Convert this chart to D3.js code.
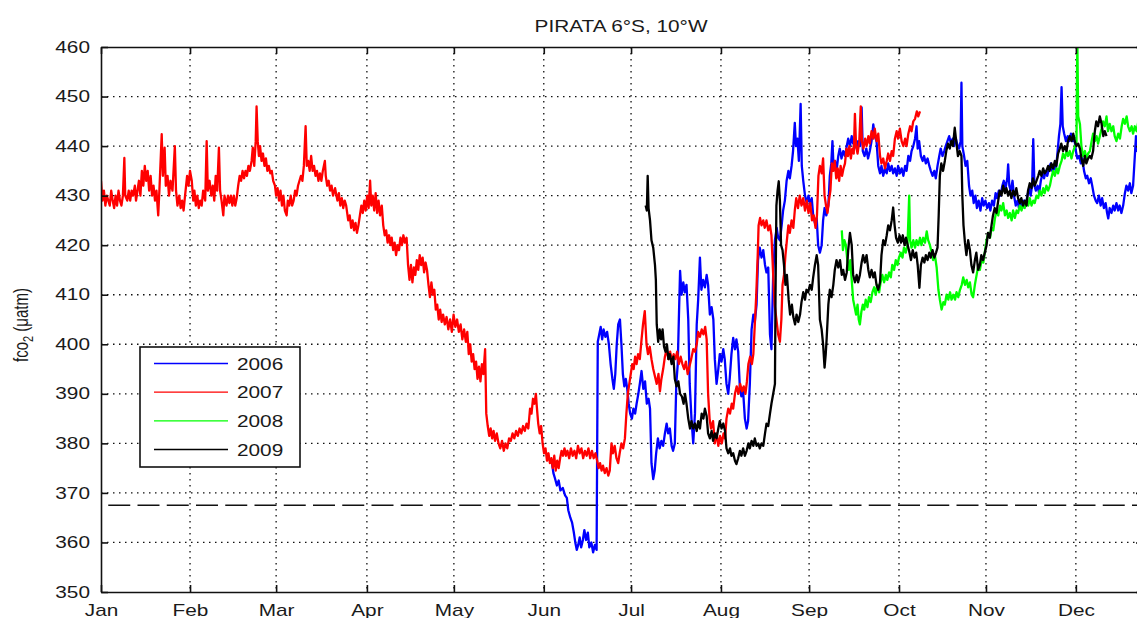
<!DOCTYPE html>
<html><head><meta charset="utf-8">
<script src="https://cdn.jsdelivr.net/npm/d3@7"></script>
<style>
body{margin:0;background:#fff}
svg{display:block}
text{font-family:"Liberation Sans",Arial,Helvetica,sans-serif;fill:#1a1a1a}
</style>
</head><body>
<svg id="c" width="1137" height="618"></svg>
<script>
// ---------- data ----------
const months = ["Jan","Feb","Mar","Apr","May","Jun","Jul","Aug","Sep","Oct","Nov","Dec"];
const monthTickDays = [0,30.5,60.0,91.1,120.9,151.7,181.6,212.4,242.6,273.4,303.2,334.0];
const yTicks = [350,360,370,380,390,400,410,420,430,440,450,460];
const seriesNames = ["2006","2007","2008","2009"];
const referenceLevel = 367.5;
const titleText = "PIRATA 6°S, 10°W";

// [day of year, fCO2]
const s2006 = [[154.5,376],[155,374],[155.5,373],[156.2,371.5],[156.8,372.5],[157.4,370.5],[158.2,371],[159,369.5],[159.6,369],[160.1,366.5],[160.8,365],[161.4,364],[162,362],[162.5,360],[163,358.5],[163.5,359.5],[164,361],[164.5,359],[165.1,360.5],[165.6,362.5],[166.2,360.5],[166.8,362],[167.3,359],[168,360],[168.6,358],[169.2,359.5],[169.8,358.5],[170.2,400.5],[170.7,402],[171.2,403.5],[171.7,401],[172.2,403],[172.8,401.5],[173.4,402.5],[174,400],[174.6,396],[175.2,393],[175.7,391],[176.2,394],[176.7,400],[177.2,404],[177.8,405],[178.3,400],[178.8,394],[179.3,391.5],[179.8,393],[180.3,391],[180.8,388],[181.3,386],[181.9,385],[182.4,387],[183,386],[183.5,388],[184.1,390],[184.6,392],[185.2,394.6],[185.8,391],[186.4,392.5],[187,388],[187.6,389],[188.1,387],[188.6,376],[189.2,372.8],[189.7,374.5],[190.2,378],[190.8,381],[191.4,379],[192,380.5],[192.6,379.5],[193.2,382],[193.8,384],[194.3,382],[194.9,383],[195.5,379.5],[196,378.5],[196.6,380],[197.1,392],[197.6,396],[198.1,408],[198.4,414.8],[198.9,410],[199.5,412.5],[200,410.5],[200.6,412],[201.2,405],[201.7,392],[202.3,385],[202.9,380],[203.5,386],[204.1,404],[204.6,409],[205.2,417.5],[205.7,411],[206.3,413],[206.9,411.5],[207.5,414],[208,412],[208.6,406],[209.2,407.5],[209.8,405],[210.3,397],[210.9,392],[211.5,395],[212,398],[212.6,396.5],[213.2,399],[213.7,397],[214.3,392],[214.9,390],[215.4,393],[216,398],[216.6,401.3],[217.2,399],[217.7,401],[218.3,398.5],[218.9,391],[219.4,389.5],[220,390.5],[220.6,385],[221.2,383],[221.7,384.5],[222.3,392],[222.9,403],[223.5,406],[224,404.5],[224.6,408],[225.1,417],[225.7,419.5],[226.3,417.5],[226.9,419],[227.5,416],[228,414.5],[228.6,415.5],[229.2,402],[229.7,399],[230.3,414],[230.9,421],[231.5,423.5],[232,421.5],[232.6,421],[233.2,424],[233.7,427],[234.3,429],[234.9,433],[235.5,435],[236,433.5],[236.6,436],[237.1,439],[237.7,444.7],[238.1,440],[238.6,441.5],[239.1,437],[239.7,448.5],[240.1,436],[240.6,433],[241.2,430],[241.8,428.5],[242.4,430],[243,428],[243.5,429.5],[244,426],[244.6,424.5],[245.2,425.5],[245.7,420],[246.3,418.5],[246.9,420],[247.4,425],[247.9,427.5],[248.5,426],[249.2,428],[249.7,434],[250.2,436.5],[250.6,441],[251,435.5],[251.5,437],[252,435],[252.6,438],[253.1,439.5],[253.7,437.5],[254.3,439],[254.9,438],[255.5,440],[256,441.5],[256.6,440],[257.2,442],[257.7,440.5],[258.3,441],[258.9,439.5],[259.4,441],[260,440],[260.6,447.8],[261,439],[261.6,438],[262.2,439.5],[262.8,437.5],[263.4,439],[264,441],[264.6,444.4],[265.1,442],[265.7,441],[266.3,436],[266.9,434.5],[267.4,436],[268,434],[268.6,435.5],[269.2,434.5],[269.7,436.5],[270.3,435],[270.9,436],[271.4,434.5],[272,435.5],[272.6,434],[273.1,436],[273.7,434.5],[274.3,435.5],[274.9,434],[275.5,436],[276,435],[276.6,438],[277.2,437],[277.7,439],[278.3,440],[278.9,441.5],[279.4,444],[279.8,439.5],[280.3,441],[280.9,438],[281.5,437],[282,438],[282.6,436.5],[283.2,437.5],[283.8,436],[284.3,435],[284.9,434],[285.5,435],[286,433.5],[286.6,436],[287.2,438],[287.7,439.5],[288.3,438],[288.9,439],[289.4,440],[290,441],[290.6,442],[291.2,440.5],[291.8,441.5],[292.3,440],[292.9,441.5],[293.5,440],[294,439.5],[294.5,441],[294.8,452.8],[295.1,440],[295.7,438],[296.2,436],[296.8,437],[297.4,432],[297.9,430],[298.5,431],[299,428.5],[299.6,430],[300.1,427.5],[300.7,429],[301.3,427],[301.9,429.5],[302.4,428],[303,429],[303.6,427.5],[304.2,428.5],[304.7,427],[305.3,429],[305.9,428],[306.5,430.5],[307,429.5],[307.6,431],[308.2,430],[308.8,432],[309.3,433],[309.9,431.5],[310.5,433.5],[310.8,436.3],[311.2,432],[311.7,431],[312.3,433],[312.8,430],[313.4,428],[314,429],[314.5,427.5],[315.1,428.5],[315.7,427.5],[316.2,429],[316.8,428],[317.4,430],[318,431.5],[318.5,430],[319,432],[319.4,441.4],[319.8,432],[320.3,431],[320.9,432],[321.4,430.5],[322,433],[322.6,434.5],[323.1,433.5],[323.7,435],[324.2,434],[324.8,435.5],[325.4,436.5],[325.9,435],[326.5,436],[327.1,435],[327.6,438],[328.2,442],[328.7,444.5],[329.1,451.9],[329.5,444],[330,442.5],[330.6,441],[331.2,442],[331.7,441],[332.3,442.5],[332.9,441],[333.4,442],[334,439],[334.5,437.5],[335.1,438],[335.7,436.5],[336.2,437.5],[336.8,435],[337.4,433.5],[337.9,434],[338.5,432.5],[339.1,433.5],[339.6,432],[340.2,430],[340.8,429],[341.3,428.5],[341.9,430],[342.5,428],[343,429.5],[343.6,427.5],[344.2,428.5],[344.7,426.5],[345.1,425.4],[345.6,427.5],[346.2,426.5],[346.8,428],[347.3,427],[347.9,428.5],[348.5,427],[349,428],[349.6,426.5],[350.2,428],[350.8,430.5],[351.3,432],[351.9,431],[352.5,432.5],[353,430.5],[353.6,432],[354.2,438],[354.6,442],[355,439],[355.6,441],[356.2,437],[356.8,439],[357.3,436]];

const s2007 = [[0,433],[0.5,429],[1,431],[1.5,428],[2,430],[3,428],[3.5,431],[4,429],[4.5,427.5],[5,430],[5.5,428],[6,431],[6.5,429],[7,428],[7.5,430],[8,437.6],[8.3,430],[9,429],[9.5,431],[10,429],[10.5,431],[11,430],[11.6,432],[12,429],[12.5,431],[13,433],[13.5,430],[14,435],[14.5,432],[15,436],[15.5,433],[16,435],[16.5,431],[17,434],[17.5,430],[18,432],[18.5,429],[19,431],[19.6,426],[20,431],[20.8,442.4],[21.2,434],[21.8,439.7],[22.2,432],[22.8,434],[23.3,430],[23.8,433],[24.5,431],[25.3,440],[25.7,431],[26.2,428],[26.8,430],[27.3,427.5],[27.8,429],[28.3,427],[28.8,430],[29.5,434],[30,432],[30.5,435],[31.1,433],[31.6,429],[32,431],[32.5,428],[33,430],[33.5,427.5],[34,429],[34.5,428],[35,431],[35.7,429],[36.2,441],[36.6,431],[37.2,433],[37.8,430],[38.3,432],[38.8,429],[39.3,434],[39.8,431],[40.4,439.7],[40.8,431],[41.3,429],[41.9,426],[42.3,430],[43,428],[43.5,430],[44,428.5],[44.5,430],[45,428],[45.5,430],[46,428],[46.5,429.5],[47,432],[47.5,434],[48,433],[48.5,435],[49,433.5],[49.5,435],[50,434],[50.5,436],[51,435],[51.6,437],[52,439.7],[52.5,436],[53,441],[53.3,448],[53.7,441],[54.1,438],[54.5,440],[55,437],[55.5,438.5],[56,436],[56.5,437.5],[57,435],[57.5,436],[58,434.5],[58.5,435],[59,433],[59.6,432],[60,430],[60.5,431.5],[61,429],[61.5,431],[62,428],[62.5,430],[63,427],[63.6,426],[64,429],[64.5,428],[65,430],[65.5,428],[66,429],[66.5,431],[67,430],[67.5,432],[68,433],[68.5,434],[69,433],[69.5,436],[70.1,444],[70.5,436],[71,437],[71.5,435],[72,438],[72.5,435],[73,436],[73.5,434],[74,435],[74.5,433],[75,434.5],[75.5,433],[76,435],[76.7,437],[77,434],[77.5,432],[78,433],[78.5,431],[79,432],[79.5,430],[80.2,431.5],[81,429],[81.5,430.5],[82,428],[82.5,429.5],[83,427.5],[83.5,429],[84,428],[84.7,425],[85.2,426],[85.7,423.5],[86.2,425],[86.7,423],[87.2,424.5],[87.7,422.5],[88.2,424],[88.7,426],[89.2,428],[89.7,426.5],[90.2,429],[90.7,427],[91.2,430],[91.7,427.5],[92.2,433],[92.6,428],[93.1,430],[93.6,427],[94.1,430.5],[94.6,426.5],[95.1,429],[95.6,426],[96.2,428],[96.7,424],[97.2,422],[97.7,423],[98.2,420.5],[98.7,422],[99.2,420],[99.6,421.5],[100.1,419],[100.6,420.5],[101.1,418],[101.6,420],[102.1,419],[102.6,421.5],[103.1,420],[103.6,422],[104.1,420.5],[104.7,421.5],[105.2,416],[105.7,413],[106.2,416],[106.7,412.5],[107.2,415.5],[107.7,414],[108.2,417],[108.7,415],[109.2,418],[109.7,416],[110.2,417.5],[110.7,414.5],[111.2,416.5],[111.7,415],[112.2,412],[112.7,409.5],[113.2,412.5],[113.7,410],[114.2,411],[114.7,407],[115.2,408],[115.7,405],[116.2,407],[116.7,404.5],[117.2,406],[117.8,404],[118.4,405.5],[119,403],[119.6,405],[120.2,402.5],[120.8,406],[121.4,403.5],[122,405],[122.6,402.5],[123.2,404],[123.8,401],[124.4,403],[125,400.5],[125.5,402.5],[126,398],[126.5,400],[127,396.5],[127.5,398],[128,395],[128.5,396.5],[129,393],[129.5,395.5],[130,392.5],[130.5,396],[131,394],[131.6,399],[132,386],[132.5,383.5],[133,381.5],[133.5,383],[134,381],[134.5,382.5],[135,380.5],[135.6,382],[136.2,380],[136.8,379],[137.4,380.5],[138,378.5],[138.6,380],[139.2,379],[139.8,381],[140.4,380.5],[141,382],[141.6,381],[142.2,382.5],[142.8,381.5],[143.4,383],[144,382],[144.6,383.5],[145.2,382.5],[145.8,384],[146.4,383],[147,387],[147.5,386],[148,389],[148.5,388],[149,390],[149.3,387.5],[149.8,384],[150.3,382],[150.8,383.5],[151.3,380],[151.8,378],[152.3,379],[152.8,376.5],[153.3,378],[153.8,376],[154.3,377],[154.8,375],[155.3,377.5],[155.8,374.5],[156.3,376.5],[156.8,375],[157.3,377],[157.8,378.5],[158.3,377.5],[158.8,379],[159.3,377.5],[159.8,378.5],[160.4,377],[161,379],[161.6,377.5],[162.2,378.5],[162.8,377],[163.4,379.5],[164,378],[164.6,379],[165.2,377],[165.8,378.5],[166.4,377.5],[167,379],[167.6,377],[168.2,378.5],[168.8,377],[169.4,378],[170,376.5],[170.5,375],[171,376],[171.5,374.5],[172,375.5],[172.6,374],[173.2,375],[173.8,373.5],[174.3,374.5],[174.9,380],[175.4,378],[176,379.5],[176.6,377],[177.2,376],[177.7,378],[178.3,380],[178.9,379],[179.5,381],[180,386],[180.5,390],[181,392],[181.5,394],[182,396],[182.5,395],[183,397.5],[183.5,396],[184,398],[184.6,397],[185.2,401],[185.7,404],[186.3,406.7],[186.9,400],[187.4,398],[188,399.5],[188.6,397],[189.2,395],[189.8,393.5],[190.4,392],[191,394],[191.5,390.5],[192,393],[192.6,395],[193.2,397.5],[193.8,399],[194.4,397],[195,398.5],[195.6,396.5],[196.2,398],[196.8,397],[197.4,398.5],[198,396],[198.6,397.5],[199.2,396],[199.8,395],[200.4,396.5],[201,394],[201.6,395.5],[202.2,397],[202.9,399],[203.5,398.5],[204.1,400],[204.6,402.5],[205.2,401.5],[205.8,403],[206.4,402],[207,403.5],[207.5,401],[208,390],[208.5,385],[209,383],[209.7,384.5],[210.3,380],[210.9,382],[211.5,379.5],[212.1,381.5],[212.7,380],[213.3,382],[213.8,381],[214.3,385],[214.9,387],[215.5,386],[216.1,388],[216.6,387],[217.2,390],[217.8,391.5],[218.4,390],[219,392],[219.6,390.5],[220.2,391.5],[220.8,390],[221.3,392.5],[221.8,396],[222.4,397.5],[223,396],[223.5,398],[224,404],[224.5,410],[225,418],[225.3,424],[225.8,425.5],[226.3,424],[226.9,425],[227.4,423.5],[228,425],[228.6,423],[229.2,424],[229.7,422],[230.3,414],[230.8,408],[231.4,405],[232,402],[232.6,400.5],[233.1,405],[233.5,412],[234,414],[234.5,418],[235,421],[235.5,424],[236,422.5],[236.6,425],[237.2,423.5],[237.7,427],[238.2,429.5],[238.8,427.5],[239.4,430],[240,428],[240.6,429.5],[241.2,427],[241.8,429],[242.4,426.5],[243,428.5],[243.6,425],[244.2,426],[244.8,423.5],[245.3,426],[245.8,434],[246.3,436],[246.9,434.5],[247.4,437.5],[247.9,430],[248.4,428],[248.9,426.5],[249.4,429],[249.9,431],[250.4,436.5],[250.9,435],[251.4,437],[251.9,433.5],[252.4,435.5],[252.9,433],[253.4,436],[253.9,434],[254.4,435.5],[254.9,436.5],[255.4,439.5],[255.9,438],[256.4,440],[256.9,437.5],[257.4,439.5],[257.9,438.5],[258.3,446.5],[258.7,440],[259.2,438.5],[259.8,441],[260.3,448],[260.7,441],[261.2,439.5],[261.8,441.5],[262.3,440],[262.9,442],[263.4,440.5],[264,443],[264.6,441.5],[265.1,443.5],[265.7,441],[266.3,442.5],[266.9,438],[267.4,436.5],[268,437.5],[268.6,435.5],[269.2,437],[269.7,438.5],[270.3,437],[270.9,439],[271.4,438],[272,441.5],[272.6,443],[273.1,441.5],[273.7,443.5],[274.3,441],[274.9,440],[275.5,441.5],[276,440],[276.6,442.5],[277.2,444],[277.7,443],[278.3,445],[278.9,445.5],[279.5,447],[280,446],[280.6,447]];

const s2008 = [[253.8,423],[254.2,419],[254.7,421],[255.2,420],[255.7,417],[256.2,415],[256.7,417],[257.2,413],[257.7,409],[258.2,407.5],[258.7,406],[259.2,408],[259.6,405],[260,404],[260.5,406.5],[261,408],[261.5,407],[262,409],[262.6,407.5],[263.1,409.5],[263.7,408.5],[264.3,410.5],[264.9,411.5],[265.4,410],[266,412],[266.6,410.5],[267.1,412.5],[267.7,414],[268.3,412.5],[268.9,414],[269.4,413],[270,414.5],[270.6,413.5],[271.1,416],[271.7,415],[272.3,417],[272.9,416],[273.4,417.5],[274,418.5],[274.6,417.5],[275.1,419.5],[275.7,418.5],[276.3,420],[276.9,430],[277.2,421],[277.7,419.5],[278.3,421],[278.9,419.5],[279.4,421],[280,420],[280.6,421.5],[281.1,420],[281.7,421.5],[282.3,420.5],[282.9,422.8],[283.4,421],[284,420],[284.6,418.5],[285.1,417],[285.7,418],[286.3,415.5],[286.9,411],[287.4,409],[288,407],[288.6,408.5],[289.1,408],[289.7,410],[290.3,409],[290.9,410.5],[291.4,409],[292,410],[292.6,409],[293.1,410.5],[293.7,409.5],[294.3,411],[294.9,412],[295.4,413.5],[296,412],[296.6,413],[297.1,411.5],[297.7,412.5],[298.3,410],[298.8,409.5],[299.4,412],[300,414],[300.6,416],[301.1,415],[301.7,417],[302.3,416.5],[302.9,419],[303.4,421],[304,422.5],[304.6,421.5],[305.1,423.5],[305.7,423],[306.3,425.5],[306.8,427],[307.4,426],[308,428],[308.5,427],[309.1,428.5],[309.7,426],[310.3,427],[310.8,425.5],[311.4,426.5],[312,425],[312.5,427],[313.1,425.5],[313.7,427],[314.2,426.5],[314.8,428],[315.4,427],[316,428.5],[316.5,427.5],[317.1,429],[317.7,428],[318.2,429.5],[318.8,428],[319.4,429],[319.9,428.5],[320.5,430],[321.1,429.5],[321.6,431],[322.2,430],[322.8,431.5],[323.3,430.5],[323.9,432],[324.5,431],[325.1,432],[325.6,433.5],[326.2,435],[326.8,434],[327.4,435.5],[327.9,434.5],[328.5,436],[329.1,437],[329.6,438.5],[330.2,437.5],[330.8,439],[331.3,438],[331.9,439],[332.5,437.5],[333.1,439],[333.7,440],[334.2,440.5],[334.5,461.5],[334.8,446],[335.4,444.4],[335.9,440],[336.5,438],[337.1,439],[337.6,437.5],[338.2,438.5],[338.8,439],[339.4,441],[339.9,442.5],[340.5,441],[341.1,442],[341.6,440.5],[342.2,442],[342.8,443.5],[343.3,445],[343.9,444],[344.5,446],[345,443],[345.6,444.5],[346.2,443],[346.8,444],[347.3,442],[347.9,441],[348.5,442.5],[349.1,441.5],[349.7,444],[350.2,445.5],[350.8,444.5],[351.4,446],[351.9,444],[352.5,443],[353.1,444],[353.6,442.5],[354.2,444],[354.8,443],[355.4,445],[355.9,446.5],[356.5,444.5],[357.1,446],[357.5,445]];

const s2009 = [[186.6,428],[187,427],[187.3,434],[187.6,427.5],[188.1,425],[188.6,421],[189.2,419.5],[189.8,416],[190.1,413],[190.4,404],[190.9,400.5],[191.4,403],[191.9,401],[192.4,403],[192.9,399.5],[193.4,398.5],[193.9,400],[194.4,397],[194.9,398],[195.5,396],[196.1,397.5],[196.6,393],[197.2,391.5],[197.8,392.5],[198.4,390],[199,389.5],[199.6,388],[200.1,390],[200.6,388],[201.2,385],[201.8,383],[202.3,384.5],[202.9,383],[203.5,384],[204.1,382.5],[204.6,384.5],[205.2,383],[205.8,386],[206.4,385],[206.9,387],[207.5,385.5],[208,382],[208.6,381],[209.2,382.5],[209.7,380.5],[210.3,382],[210.9,381],[211.5,383],[212,384.5],[212.6,383],[213.2,384],[213.8,382.5],[214.3,379],[214.9,378],[215.5,379],[216,377.5],[216.6,378],[217.2,376.5],[217.7,375.8],[218.3,377],[218.9,378.5],[219.4,377.5],[220,379],[220.6,377.5],[221.2,378.5],[221.8,380],[222.3,379],[222.9,380.5],[223.5,379.5],[224,381],[224.6,379.5],[225.2,380],[225.7,379],[226.3,380],[226.9,379.5],[227.5,382],[228,384],[228.6,383.5],[229.2,386],[229.7,388],[230.3,390],[230.9,392],[231.1,410],[231.4,428],[231.8,431],[232.2,432.9],[232.6,429],[233,420],[233.5,419],[234,416],[234.5,412],[235,414],[235.6,409],[236.1,406],[236.7,408],[237.2,405.5],[237.8,404],[238.3,406],[238.9,404.5],[239.5,406],[240,408.5],[240.6,410.5],[241.2,409],[241.7,411],[242.3,410.5],[242.9,412],[243.5,411],[244,413.5],[244.6,416],[245.2,418],[245.7,416],[246.3,405],[246.9,403],[247.4,400],[247.9,395.3],[248.3,398],[248.6,401],[249.2,408],[249.7,411],[250.3,409.5],[250.9,412],[251.4,415],[252,417],[252.6,415.5],[253.2,417],[253.8,414],[254.3,415],[254.9,413],[255.5,414.5],[256,419],[256.6,422.5],[257.2,420],[257.7,414],[258.3,412.5],[258.9,414],[259.4,412.5],[260,414],[260.6,416.5],[261.1,418],[261.7,416.5],[262.3,418],[262.9,415],[263.4,413.5],[264,415],[264.6,413.5],[265.1,414.5],[265.7,412],[266.3,411],[266.9,412.5],[267.4,418],[268,421],[268.6,420],[269.2,422],[269.7,424],[270.3,423],[270.9,425],[271.4,427.6],[271.9,424],[272.4,421.5],[273,420.5],[273.6,422],[274.1,420.5],[274.7,422],[275.3,420],[275.8,421.5],[276.4,420],[277,418.5],[277.5,417],[278.1,419],[278.7,417.5],[279.3,418.5],[279.8,416],[280.4,411.4],[280.9,416],[281.5,417.5],[282.1,416.5],[282.6,418],[283.2,417],[283.8,418.5],[284.3,417.5],[284.9,419],[285.5,417.5],[286.1,418.5],[286.6,419.5],[287,426],[287.4,434],[287.9,436.5],[288.5,435],[289.1,437],[289.6,439],[290.2,440.5],[290.8,439.5],[291.3,441],[291.9,440],[292.5,443.7],[293,441],[293.6,438],[294.2,439],[294.8,438],[295.1,430],[295.5,424],[296,420.5],[296.5,418],[297.1,421],[297.7,419],[298.2,416],[298.8,414.5],[299.4,417],[299.9,418.5],[300.5,415],[301.1,416],[301.6,418],[302.2,417],[302.8,418.5],[303.4,420],[303.9,422.5],[304.5,421.5],[305.1,424],[305.6,426],[306.2,427.5],[306.8,426.5],[307.4,429],[307.9,431],[308.5,430],[309.1,432],[309.7,430.5],[310.2,431.5],[310.8,430],[311.4,431],[311.9,429.5],[312.5,431],[313.1,430],[313.6,431.5],[314.2,429.5],[314.8,428.5],[315.3,429.5],[315.9,428],[316.5,429],[317.1,428],[317.6,431],[318.2,432.5],[318.8,431.5],[319.3,433.5],[319.9,432],[320.5,433],[321.1,434],[321.6,435],[322.2,434],[322.8,435.5],[323.3,434.5],[323.9,435],[324.5,436],[325,435],[325.6,436.5],[326.2,435.5],[326.8,437],[327.3,436],[327.9,438.5],[328.5,439.5],[329,440.5],[329.6,439],[330.2,440],[330.8,439],[331.3,441],[331.9,442],[332.5,441],[333.1,442.5],[333.6,441],[334.2,440],[334.8,440.5],[335.4,439.5],[335.9,437.5],[336.5,436],[337.1,438],[337.6,436.5],[338.2,437.5],[338.8,438],[339.3,437.5],[339.9,439],[340.5,443],[341,445],[341.6,444],[342.2,446],[342.8,444.5],[343.4,442],[343.9,443],[344.5,442]];

// ---------- drawing ----------
const seriesData = [s2006, s2007, s2008, s2009];
const seriesColors = ["#0000ff","#ff0000","#00ff00","#000000"];
const L = 101, T = 47, R = 1143, B = 592;
const STRETCH = 1.3;

const svg = d3.select("#c");
const x = d3.scaleLinear().domain([0, 357]).range([L, R]);
const y = d3.scaleLinear().domain([350, 460]).range([B, T]);

svg.append("defs").append("clipPath").attr("id","plotclip")
  .append("rect").attr("x",L).attr("y",T).attr("width",R-L).attr("height",B-T);

// dotted grid
const grid = svg.append("g");
grid.selectAll("line.h").data(yTicks.filter(v => v > 350 && v < 460)).join("line").attr("class","h")
  .attr("x1", L).attr("x2", R).attr("y1", d => y(d)).attr("y2", d => y(d))
  .attr("stroke", "#111").attr("stroke-width", 1.3).attr("stroke-dasharray", "1.5,4.5");
grid.selectAll("line.v").data(monthTickDays.slice(1)).join("line").attr("class","v")
  .attr("y1", T).attr("y2", B).attr("x1", d => x(d)).attr("x2", d => x(d))
  .attr("stroke", "#111").attr("stroke-width", 1.3).attr("stroke-dasharray", "1.5,4.5");

// reference dashed line
svg.append("line").attr("x1", L).attr("x2", R)
  .attr("y1", y(referenceLevel)).attr("y2", y(referenceLevel))
  .attr("stroke", "#111").attr("stroke-width", 1.4)
  .attr("stroke-dasharray", "22,7.25").attr("stroke-dashoffset", 22);

// series
const line = d3.line().x(d => x(d[0])).y(d => y(d[1]));
const plot = svg.append("g").attr("clip-path", "url(#plotclip)");
seriesData.forEach((s, i) => {
  plot.append("path").datum(s).attr("d", line)
    .attr("fill", "none").attr("stroke", seriesColors[i])
    .attr("stroke-width", 2.3).attr("stroke-linejoin", "round");
});

// axes (inward ticks)
const fmtMonth = (d, i) => months[i];
const axB = svg.append("g").attr("transform", `translate(0,${B})`)
  .call(d3.axisBottom(x).tickValues(monthTickDays).tickFormat(fmtMonth).tickSizeInner(-7).tickSizeOuter(0).tickPadding(13));
const axT = svg.append("g").attr("transform", `translate(0,${T})`)
  .call(d3.axisTop(x).tickValues(monthTickDays).tickFormat("").tickSizeInner(-7).tickSizeOuter(0));
const axL = svg.append("g").attr("transform", `translate(${L},0)`)
  .call(d3.axisLeft(y).tickValues(yTicks).tickFormat(d3.format("d")).tickSizeInner(-7).tickSizeOuter(0).tickPadding(8.5));
const axR = svg.append("g").attr("transform", `translate(${R},0)`)
  .call(d3.axisRight(y).tickValues(yTicks).tickFormat("").tickSizeInner(-7).tickSizeOuter(0));
[axB, axT, axL, axR].forEach(a => {
  a.select(".domain").attr("stroke", "#111").attr("stroke-width", 1.6);
  a.selectAll(".tick line").attr("stroke", "#111").attr("stroke-width", 1.6);
  a.selectAll("text").attr("font-size", 16).attr("font-family", null).attr("fill", "#1a1a1a")
    .attr("transform", `scale(${STRETCH},1)`);
});
axB.selectAll("text").attr("dy", null).attr("y", 24);

// title
svg.append("text").attr("transform", `translate(621,32) scale(${STRETCH},1)`)
  .attr("text-anchor", "middle").attr("font-size", 16).text(titleText);

// y label
const yl = svg.append("text").attr("transform", `translate(28,325) rotate(-90) scale(1,${STRETCH})`)
  .attr("text-anchor", "middle").attr("font-size", 15);
yl.append("tspan").text("fco");
yl.append("tspan").attr("font-size", 11).attr("dy", 4).text("2");
yl.append("tspan").attr("dy", -4).text(" (μatm)");

// legend
const lg = svg.append("g");
lg.append("rect").attr("x", 140).attr("y", 347).attr("width", 160).attr("height", 120)
  .attr("fill", "#fff").attr("stroke", "#111").attr("stroke-width", 1.6);
const rowY = d3.scalePoint().domain(seriesNames).range([363.5, 449.5]);
seriesNames.forEach((n, i) => {
  lg.append("line").attr("x1", 154).attr("x2", 228).attr("y1", rowY(n)).attr("y2", rowY(n))
    .attr("stroke", seriesColors[i]).attr("stroke-width", 1.3);
  lg.append("text").attr("transform", `translate(237,${rowY(n) + 6}) scale(${STRETCH},1)`)
    .attr("font-size", 16).text(n);
});
</script>
</body></html>
